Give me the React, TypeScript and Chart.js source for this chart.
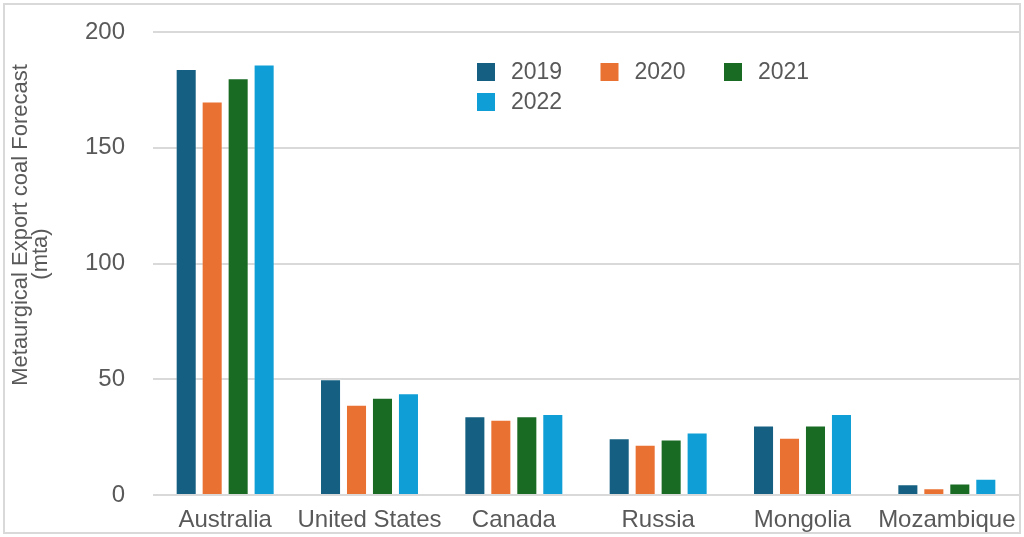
import React, { useEffect, useRef } from "react";
import { Chart, registerables } from "chart.js";

Chart.register(...registerables);

const categories = ["Australia", "United States", "Canada", "Russia", "Mongolia", "Mozambique"];
const seriesLabels = ["2019", "2020", "2021", "2022"];
const values2019 = [184, 50, 34, 24.5, 30, 4.6];
const values2020 = [170, 39, 32.5, 21.7, 24.7, 2.9];
const values2021 = [180, 42, 34, 24, 30, 5];
const values2022 = [186, 44, 35, 27, 35, 7];
const seriesColors = ["#156082", "#E97132", "#196B24", "#0F9ED5"];
const yTitleLines = ["Metaurgical Export coal Forecast", "(mta)"];

const FONT = '"Liberation Sans", Arial, Helvetica, sans-serif';
const TEXT = "#595959";
const GRID = "#D9D9D9";

const framePlugin = {
  id: "frame",
  beforeDraw(chart: any) {
    const ctx = chart.ctx;
    ctx.save();
    ctx.fillStyle = "#ffffff";
    ctx.fillRect(0, 0, chart.width, chart.height);
    ctx.strokeStyle = GRID;
    ctx.lineWidth = 2;
    ctx.strokeRect(4, 4, chart.width - 8, chart.height - 8);
    ctx.restore();
  },
};

const titlePlugin = {
  id: "ytitle",
  afterDraw(chart: any) {
    const ctx = chart.ctx;
    ctx.save();
    ctx.fillStyle = TEXT;
    ctx.font = `22px ${FONT}`;
    ctx.textAlign = "center";
    ctx.textBaseline = "middle";
    const centers = [
      [21, 225],
      [41, 254],
    ];
    yTitleLines.forEach((line, i) => {
      ctx.save();
      ctx.translate(centers[i][0], centers[i][1]);
      ctx.rotate(-Math.PI / 2);
      ctx.fillText(line, 0, 0);
      ctx.restore();
    });
    ctx.restore();
  },
};

const legendPlugin = {
  id: "customLegend",
  afterDraw(chart: any) {
    const ctx = chart.ctx;
    ctx.save();
    ctx.font = `23px ${FONT}`;
    ctx.textBaseline = "middle";
    ctx.textAlign = "left";
    const startX = 477;
    const itemW = 123.5;
    const rowY = [63, 93];
    const perRow = 3;
    chart.data.datasets.forEach((ds: any, i: number) => {
      const col = i % perRow;
      const row = Math.floor(i / perRow);
      const x = startX + col * itemW;
      const y = rowY[row];
      ctx.fillStyle = ds.backgroundColor;
      ctx.fillRect(x, y, 18, 18);
      ctx.fillStyle = TEXT;
      ctx.fillText(ds.label, x + 34, y + 10);
    });
    ctx.restore();
  },
};

export default function App() {
  const canvasRef = useRef<HTMLCanvasElement | null>(null);

  useEffect(() => {
    document.body.style.margin = "0";
    const canvas = canvasRef.current;
    if (!canvas) return;
    const allValues = [values2019, values2020, values2021, values2022];
    const chart = new Chart(canvas, {
      type: "bar",
      data: {
        labels: categories,
        datasets: seriesLabels.map((label, i) => ({
          label,
          data: allValues[i],
          backgroundColor: seriesColors[i],
          borderColor: "rgba(255,255,255,0.35)",
          borderWidth: 1,
          categoryPercentage: 0.72,
          barPercentage: 0.81,
        })),
      },
      options: {
        responsive: false,
        animation: false,
        devicePixelRatio: 1,
        layout: { padding: { top: 32, right: 5, bottom: 0, left: 0 } },
        plugins: {
          legend: { display: false },
          tooltip: { enabled: false },
        },
        scales: {
          x: {
            grid: { display: false },
            border: { display: false },
            ticks: {
              color: TEXT,
              font: { family: FONT, size: 24 },
              padding: 3,
              maxRotation: 0,
              autoSkip: false,
            },
            afterFit(scale: any) {
              scale.height = 42;
              scale.paddingLeft = 0;
              scale.paddingRight = 0;
            },
          },
          y: {
            min: 0,
            max: 200,
            border: { display: false },
            grid: { color: GRID, lineWidth: 2, drawTicks: false, tickLength: 0 },
            ticks: {
              stepSize: 50,
              color: TEXT,
              font: { family: FONT, size: 24 },
              padding: 28,
            },
            afterFit(scale: any) {
              scale.width = 153;
              scale.paddingTop = 0;
              scale.paddingBottom = 0;
            },
          },
        },
      },
      plugins: [framePlugin, titlePlugin, legendPlugin],
    });
    return () => chart.destroy();
  }, []);

  return (
    <div style={{ width: 1024, height: 537 }}>
      <canvas ref={canvasRef} width={1024} height={537} style={{ display: "block" }} />
    </div>
  );
}
